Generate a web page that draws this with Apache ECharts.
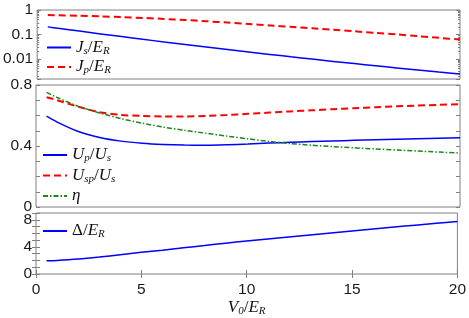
<!DOCTYPE html>
<html><head><meta charset="utf-8">
<script src="https://cdn.jsdelivr.net/npm/echarts@6/dist/echarts.min.js"></script>
<style>html,body{margin:0;padding:0;background:#fff}#c{width:469px;height:318px}</style>
</head><body><div id="c"></div>
<script>
// ---- data ----
const xs    = [0.5, 1, 2, 3, 4, 5, 6, 7, 8, 9, 10, 11, 12, 13, 14, 15, 16, 17, 18, 19, 20];
const Js    = [0.204, 0.178, 0.137, 0.105, 0.0814, 0.0632, 0.0493, 0.0386, 0.0304, 0.0240, 0.0191, 0.0152, 0.01216, 0.00978, 0.00789, 0.00640, 0.00522, 0.00427, 0.00351, 0.00289, 0.00240];
const Jp    = [0.617, 0.610, 0.582, 0.550, 0.513, 0.473, 0.432, 0.389, 0.347, 0.305, 0.269, 0.234, 0.204, 0.178, 0.155, 0.135, 0.115, 0.100, 0.0851, 0.0724, 0.0617];
const Up    = [0.596, 0.557, 0.495, 0.456, 0.432, 0.418, 0.410, 0.406, 0.405, 0.408, 0.413, 0.419, 0.424, 0.429, 0.433, 0.437, 0.441, 0.445, 0.448, 0.451, 0.454];
const Usp   = [0.720, 0.700, 0.657, 0.622, 0.604, 0.597, 0.594, 0.594, 0.597, 0.603, 0.611, 0.619, 0.627, 0.634, 0.641, 0.648, 0.654, 0.660, 0.665, 0.670, 0.675];
const eta   = [0.752, 0.718, 0.660, 0.617, 0.580, 0.550, 0.524, 0.503, 0.484, 0.465, 0.447, 0.430, 0.416, 0.405, 0.396, 0.388, 0.381, 0.374, 0.367, 0.360, 0.354];
const Delta = [1.95, 2.0, 2.2, 2.5, 2.85, 3.2, 3.52, 3.86, 4.2, 4.55, 4.88, 5.17, 5.46, 5.75, 6.05, 6.35, 6.65, 6.94, 7.2, 7.47, 7.75];

// ---- axes / ticks ----
const xRange = [0, 20];
const xTickLabels = [0, 5, 10, 15, 20];
const p1Range = [0.0015, 1];
const p1Labels = [0.01, 0.1, 1];
const p1MinorTicks = [0.002,0.003,0.004,0.005,0.006,0.007,0.008,0.009,0.02,0.03,0.04,0.05,0.06,0.07,0.08,0.09,0.2,0.3,0.4,0.5,0.6,0.7,0.8,0.9];
const p2Range = [0, 0.8];
const p2Labels = [0, 0.4, 0.8];
const p3Range = [0, 9];
const p3Labels = [0, 4, 8];

const BORDER = '#808080';
const LABEL = '#1a1a1a';
const FONT = 'Liberation Sans';
const SERIF = 'Liberation Serif';

const rich = {
  i: {fontFamily: SERIF, fontStyle: 'italic', fontSize: 17, color: '#111', lineHeight: 18, verticalAlign: 'middle'},
  n: {fontFamily: SERIF, fontSize: 17, color: '#111', lineHeight: 18, verticalAlign: 'middle'},
  s: {fontFamily: SERIF, fontStyle: 'italic', fontSize: 11, color: '#111', lineHeight: 9, verticalAlign: 'bottom'}
};
const legendText = {
  Js: '{i|J}{s|s}{n|/}{i|E}{s|R}',
  Jp: '{i|J}{s|p}{n|/}{i|E}{s|R}',
  Up: '{i|U}{s|p}{n|/}{i|U}{s|s}',
  Usp: '{i|U}{s|sp}{n|/}{i|U}{s|s}',
  eta: '{i|η}',
  Delta: '{n|Δ/}{i|E}{s|R}'
};

const grids = [
  {left: 36, right: 9, top: 10, height: 69},
  {left: 36, right: 9, top: 85, height: 122},
  {left: 36, right: 9, top: 213, height: 68}
].map(g => Object.assign(g, {show: true, borderColor: BORDER, borderWidth: 1, backgroundColor: '#fff'}));

const near = (a, b) => Math.abs(a - b) < 1e-9;
const tickBase = {show: true, inside: true, length: 4, lineStyle: {color: BORDER, width: 1}};
const noLine = {show: false};
const noSplit = {show: false};
const lbl = extra => Object.assign({color: LABEL, fontFamily: FONT, fontSize: 15.5}, extra);

const xAxis = [
  {type: 'value', gridIndex: 0, min: xRange[0], max: xRange[1], show: false},
  {type: 'value', gridIndex: 1, min: xRange[0], max: xRange[1], show: false},
  {type: 'value', gridIndex: 2, min: xRange[0], max: xRange[1], interval: 5, position: 'bottom',
   axisLine: noLine, splitLine: noSplit, axisTick: tickBase,
   axisLabel: lbl({margin: 8, formatter: v => xTickLabels.some(t => near(t, v)) ? String(v) : ''}),
   name: '{i|V}{s|0}{n|/}{i|E}{s|R}', nameLocation: 'middle', nameGap: 25,
   nameTextStyle: {rich: rich}},
  {type: 'value', gridIndex: 2, min: xRange[0], max: xRange[1], interval: 5, position: 'top',
   axisLine: noLine, splitLine: noSplit, axisTick: tickBase, axisLabel: {show: false}}
];

const yAxis = [
  {type: 'log', logBase: 10, gridIndex: 0, min: p1Range[0], max: p1Range[1], position: 'left',
   axisLine: noLine, splitLine: noSplit, axisTick: tickBase,
   axisLabel: lbl({margin: 4, formatter: v => { const m = p1Labels.find(t => Math.abs(t - v) / t < 1e-6); return m !== undefined ? String(m) : ''; }})},
  {type: 'log', logBase: 10, gridIndex: 0, min: p1Range[0], max: p1Range[1], position: 'right',
   axisLine: noLine, splitLine: noSplit, axisTick: tickBase, axisLabel: {show: false}},
  {type: 'value', gridIndex: 0, min: Math.log10(p1Range[0]), max: Math.log10(p1Range[1]), position: 'left',
   axisLine: noLine, splitLine: noSplit, axisLabel: {show: false},
   axisTick: Object.assign({}, tickBase, {length: 2, customValues: p1MinorTicks.map(Math.log10)})},
  {type: 'value', gridIndex: 0, min: Math.log10(p1Range[0]), max: Math.log10(p1Range[1]), position: 'right',
   axisLine: noLine, splitLine: noSplit, axisLabel: {show: false},
   axisTick: Object.assign({}, tickBase, {length: 2, customValues: p1MinorTicks.map(Math.log10)})},
  {type: 'value', gridIndex: 1, min: p2Range[0], max: p2Range[1], interval: 0.1, position: 'left',
   axisLine: noLine, splitLine: noSplit, axisTick: tickBase,
   axisLabel: lbl({margin: 4, formatter: v => { const m = p2Labels.find(t => near(t, v)); return m !== undefined ? String(m) : ''; }})},
  {type: 'value', gridIndex: 1, min: p2Range[0], max: p2Range[1], interval: 0.1, position: 'right',
   axisLine: noLine, splitLine: noSplit, axisTick: tickBase, axisLabel: {show: false}},
  {type: 'value', gridIndex: 2, min: p3Range[0], max: p3Range[1], interval: 1, position: 'left',
   axisLine: noLine, splitLine: noSplit, axisTick: tickBase,
   axisLabel: lbl({margin: 4, formatter: v => { const m = p3Labels.find(t => near(t, v)); return m !== undefined ? String(m) : ''; }})},
  {type: 'value', gridIndex: 2, min: p3Range[0], max: p3Range[1], interval: 1, position: 'right',
   axisLine: noLine, splitLine: noSplit, axisTick: tickBase, axisLabel: {show: false}}
];

const pts = arr => xs.map((x, i) => [x, arr[i]]);
const mk = (name, arr, xi, yi, color, type, width) => ({
  name: name, type: 'line', xAxisIndex: xi, yAxisIndex: yi, data: pts(arr),
  showSymbol: false, symbol: 'none', smooth: 0.25, silent: true,
  lineStyle: {color: color, type: type, width: width}, itemStyle: {color: color}
});

const series = [
  mk('Js', Js, 0, 0, '#0000ff', 'solid', 1.5),
  mk('Jp', Jp, 0, 0, '#ff0000', [7, 4], 2),
  mk('Up', Up, 1, 4, '#0000ff', 'solid', 1.5),
  mk('Usp', Usp, 1, 4, '#ff0000', [7, 4], 2),
  mk('eta', eta, 1, 4, '#1a881a', [5, 2, 1.5, 2], 1.5),
  mk('Delta', Delta, 2, 6, '#0000ff', 'solid', 1.5)
];

const legendBase = {orient: 'vertical', itemWidth: 24, itemHeight: 12, padding: 0,
  itemStyle: {opacity: 0}, formatter: n => legendText[n], textStyle: {rich: rich}, selectedMode: false};
const legend = [
  Object.assign({}, legendBase, {left: 46, top: 39, itemGap: 2, data: ['Js', 'Jp']}),
  Object.assign({}, legendBase, {left: 42, top: 146.5, itemGap: 3, data: ['Up', 'Usp', 'eta']}),
  Object.assign({}, legendBase, {left: 42, top: 222.5, itemGap: 2, data: ['Delta']})
];

const chart = echarts.init(document.getElementById('c'), null, {renderer: 'canvas'});
chart.setOption({animation: false, backgroundColor: '#fff', grid: grids, xAxis: xAxis, yAxis: yAxis, series: series, legend: legend});
</script>
</body></html>
